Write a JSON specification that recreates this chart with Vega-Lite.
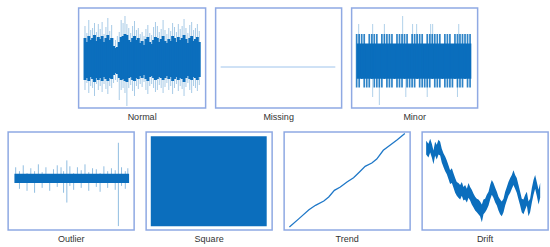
{
  "$schema": "https://vega.github.io/schema/vega-lite/v6.json",
  "padding": {"left": 7, "right": 7, "top": 7, "bottom": 4},
  "config": {
    "view": {"stroke": "#8fa9e3", "strokeWidth": 1.5},
    "axis": {"disable": true},
    "title": {"orient": "bottom", "fontSize": 9, "font": "Liberation Sans", "fontWeight": "normal", "color": "#333333", "offset": 5}
  },
  "vconcat": [
    {
      "hconcat": [
        {
          "title": "Normal", "width": 127, "height": 100,
          "data": {"values": [
            {"t":5,"mn":18,"lo":28,"hi":70,"mx":82},{"t":6.5,"mn":25,"lo":30,"hi":66,"mx":75},{"t":8,"mn":15,"lo":27,"hi":72,"mx":88},
            {"t":9.5,"mn":22,"lo":31,"hi":68,"mx":78},{"t":11,"mn":20,"lo":29,"hi":70,"mx":80},{"t":12.5,"mn":12,"lo":26,"hi":73,"mx":85},
            {"t":14,"mn":24,"lo":30,"hi":67,"mx":76},{"t":15.5,"mn":18,"lo":28,"hi":71,"mx":84},{"t":17,"mn":22,"lo":30,"hi":69,"mx":79},
            {"t":18.5,"mn":16,"lo":27,"hi":72,"mx":86},{"t":20,"mn":24,"lo":31,"hi":66,"mx":74},{"t":21.5,"mn":19,"lo":29,"hi":70,"mx":81},
            {"t":23,"mn":14,"lo":27,"hi":73,"mx":90},{"t":24.5,"mn":22,"lo":30,"hi":68,"mx":77},{"t":26,"mn":20,"lo":29,"hi":70,"mx":83},
            {"t":27.5,"mn":25,"lo":33,"hi":62,"mx":70},{"t":29,"mn":28,"lo":35,"hi":60,"mx":68},{"t":30.5,"mn":26,"lo":34,"hi":61,"mx":72},
            {"t":32,"mn":8,"lo":30,"hi":66,"mx":76},{"t":33.5,"mn":18,"lo":28,"hi":71,"mx":88},{"t":35,"mn":20,"lo":29,"hi":72,"mx":85},
            {"t":36.5,"mn":15,"lo":27,"hi":74,"mx":92},{"t":38,"mn":2,"lo":26,"hi":73,"mx":84},{"t":39.5,"mn":20,"lo":30,"hi":68,"mx":80},
            {"t":41,"mn":23,"lo":31,"hi":66,"mx":75},{"t":42.5,"mn":17,"lo":28,"hi":70,"mx":82},{"t":44,"mn":12,"lo":27,"hi":72,"mx":87},
            {"t":45.5,"mn":22,"lo":30,"hi":68,"mx":78},{"t":47,"mn":19,"lo":29,"hi":70,"mx":80},{"t":48.5,"mn":24,"lo":32,"hi":65,"mx":74},
            {"t":50,"mn":21,"lo":30,"hi":67,"mx":76},{"t":51.5,"mn":26,"lo":33,"hi":63,"mx":72},{"t":53,"mn":18,"lo":29,"hi":69,"mx":79},
            {"t":54.5,"mn":14,"lo":27,"hi":71,"mx":83},{"t":56,"mn":22,"lo":31,"hi":66,"mx":75},{"t":57.5,"mn":24,"lo":32,"hi":64,"mx":73},
            {"t":59,"mn":20,"lo":30,"hi":68,"mx":81},{"t":60.5,"mn":16,"lo":28,"hi":71,"mx":86},{"t":62,"mn":18,"lo":29,"hi":70,"mx":82},
            {"t":63.5,"mn":23,"lo":31,"hi":66,"mx":76},{"t":65,"mn":20,"lo":30,"hi":69,"mx":79},{"t":66.5,"mn":15,"lo":28,"hi":72,"mx":88},
            {"t":68,"mn":21,"lo":30,"hi":67,"mx":78},{"t":69.5,"mn":25,"lo":32,"hi":65,"mx":74},{"t":71,"mn":18,"lo":29,"hi":69,"mx":80},
            {"t":72.5,"mn":22,"lo":31,"hi":67,"mx":77},{"t":74,"mn":14,"lo":27,"hi":72,"mx":85},{"t":75.5,"mn":20,"lo":29,"hi":70,"mx":81},
            {"t":77,"mn":24,"lo":31,"hi":66,"mx":76},{"t":78.5,"mn":17,"lo":28,"hi":71,"mx":84},{"t":80,"mn":22,"lo":30,"hi":68,"mx":79},
            {"t":81.5,"mn":19,"lo":29,"hi":70,"mx":82},{"t":83,"mn":12,"lo":26,"hi":73,"mx":89},{"t":84.5,"mn":21,"lo":30,"hi":69,"mx":80},
            {"t":86,"mn":25,"lo":32,"hi":65,"mx":75},{"t":87.5,"mn":18,"lo":29,"hi":70,"mx":83},{"t":89,"mn":15,"lo":28,"hi":72,"mx":86},
            {"t":90.5,"mn":22,"lo":31,"hi":67,"mx":78},{"t":92,"mn":20,"lo":30,"hi":69,"mx":80},{"t":93.5,"mn":17,"lo":28,"hi":71,"mx":84},
            {"t":95,"mn":23,"lo":31,"hi":66,"mx":77}
          ]},
          "layer": [
            {"mark": {"type": "rule", "color": "#0b6ebd", "strokeWidth": 0.8, "opacity": 0.45},
             "encoding": {"x": {"field": "t", "type": "quantitative", "scale": {"domain": [0, 100]}},
                          "y": {"field": "mn", "type": "quantitative", "scale": {"domain": [0, 100]}},
                          "y2": {"field": "mx"}}},
            {"mark": {"type": "rule", "color": "#0b6ebd", "strokeWidth": 2.9},
             "encoding": {"x": {"field": "t", "type": "quantitative", "scale": {"domain": [0, 100]}},
                          "y": {"field": "lo", "type": "quantitative", "scale": {"domain": [0, 100]}},
                          "y2": {"field": "hi"}}}
          ]
        },
        {
          "title": "Missing", "width": 126, "height": 100,
          "data": {"values": [{"t": 4, "v": 41}, {"t": 95, "v": 41}]},
          "mark": {"type": "line", "color": "#9fc4ec", "strokeWidth": 1},
          "encoding": {"x": {"field": "t", "type": "quantitative", "scale": {"domain": [0, 100]}},
                       "y": {"field": "v", "type": "quantitative", "scale": {"domain": [0, 100]}}}
        },
        {
          "title": "Minor", "width": 126, "height": 100,
          "layer": [
            {"data": {"values": [{"a": 4, "b": 95, "lo": 29.3, "hi": 64.6}]},
             "mark": {"type": "rect", "color": "#0b6ebd"},
             "encoding": {"x": {"field": "a", "type": "quantitative", "scale": {"domain": [0, 100]}}, "x2": {"field": "b"},
                          "y": {"field": "lo", "type": "quantitative", "scale": {"domain": [0, 100]}}, "y2": {"field": "hi"}}},
            {"data": {"values": [
              {"t":4,"lo":20.5,"hi":74},{"t":6,"lo":20.5,"hi":74},{"t":8,"lo":29,"hi":74},{"t":10,"lo":20.5,"hi":74},{"t":12,"lo":20.5,"hi":64},
              {"t":14,"lo":20.5,"hi":74},{"t":16,"lo":29,"hi":74},{"t":18,"lo":20.5,"hi":74},{"t":20,"lo":20.5,"hi":74},{"t":22,"lo":20.5,"hi":64},
              {"t":24,"lo":20.5,"hi":74},{"t":26,"lo":29,"hi":74},{"t":28,"lo":20.5,"hi":74},{"t":30,"lo":20.5,"hi":74},{"t":32,"lo":20.5,"hi":74},
              {"t":34,"lo":29,"hi":64},{"t":36,"lo":20.5,"hi":74},{"t":38,"lo":20.5,"hi":74},{"t":40,"lo":20.5,"hi":74},{"t":42,"lo":29,"hi":74},
              {"t":44,"lo":20.5,"hi":74},{"t":46,"lo":20.5,"hi":64},{"t":48,"lo":20.5,"hi":74},{"t":50,"lo":20.5,"hi":74},{"t":52,"lo":29,"hi":74},
              {"t":54,"lo":20.5,"hi":74},{"t":56,"lo":20.5,"hi":74},{"t":58,"lo":20.5,"hi":64},{"t":60,"lo":20.5,"hi":74},{"t":62,"lo":20.5,"hi":74},
              {"t":64,"lo":29,"hi":74},{"t":66,"lo":20.5,"hi":74},{"t":68,"lo":20.5,"hi":74},{"t":70,"lo":20.5,"hi":74},{"t":72,"lo":29,"hi":64},
              {"t":74,"lo":20.5,"hi":74},{"t":76,"lo":20.5,"hi":74},{"t":78,"lo":20.5,"hi":74},{"t":80,"lo":20.5,"hi":64},{"t":82,"lo":29,"hi":74},
              {"t":84,"lo":20.5,"hi":74},{"t":86,"lo":20.5,"hi":74},{"t":88,"lo":20.5,"hi":74},{"t":90,"lo":29,"hi":74},{"t":92,"lo":20.5,"hi":74},
              {"t":94,"lo":20.5,"hi":74}
             ]},
             "mark": {"type": "rule", "color": "#0b6ebd", "strokeWidth": 1.7, "opacity": 0.85},
             "encoding": {"x": {"field": "t", "type": "quantitative", "scale": {"domain": [0, 100]}},
                          "y": {"field": "lo", "type": "quantitative", "scale": {"domain": [0, 100]}}, "y2": {"field": "hi"}}},
            {"data": {"values": [
              {"t":5.6,"lo":64,"hi":84},{"t":16.7,"lo":11,"hi":84},{"t":22,"lo":3,"hi":30},{"t":26,"lo":64,"hi":84},{"t":40.5,"lo":64,"hi":92},
              {"t":43,"lo":11,"hi":30},{"t":48.4,"lo":64,"hi":84},{"t":51.6,"lo":64,"hi":84},{"t":60,"lo":11,"hi":30},{"t":62.7,"lo":64,"hi":84},
              {"t":64.3,"lo":64,"hi":84},{"t":84,"lo":11,"hi":30},{"t":85,"lo":64,"hi":84}
             ]},
             "mark": {"type": "rule", "color": "#0b6ebd", "strokeWidth": 0.8, "opacity": 0.4},
             "encoding": {"x": {"field": "t", "type": "quantitative", "scale": {"domain": [0, 100]}},
                          "y": {"field": "lo", "type": "quantitative", "scale": {"domain": [0, 100]}}, "y2": {"field": "hi"}}}
          ]
        }
      ],
      "spacing": 8
    },
    {
      "hconcat": [
        {
          "title": "Outlier", "width": 126, "height": 98,
          "layer": [
            {"data": {"values": [
              {"t":6,"lo":55,"hi":64},{"t":9,"lo":42,"hi":60},{"t":12,"lo":50,"hi":66},{"t":15,"lo":40,"hi":58},{"t":18,"lo":52,"hi":63},
              {"t":21,"lo":38,"hi":60},{"t":24,"lo":50,"hi":67},{"t":27,"lo":43,"hi":59},{"t":30,"lo":51,"hi":64},{"t":33,"lo":40,"hi":57},
              {"t":36,"lo":50,"hi":62},{"t":39,"lo":44,"hi":66},{"t":42,"lo":52,"hi":64},{"t":44,"lo":38,"hi":60},{"t":46.6,"lo":28,"hi":71},
              {"t":49,"lo":45,"hi":65},{"t":52,"lo":41,"hi":58},{"t":55,"lo":50,"hi":64},{"t":58,"lo":43,"hi":61},{"t":61,"lo":49,"hi":67},
              {"t":64,"lo":40,"hi":59},{"t":67,"lo":51,"hi":63},{"t":70,"lo":44,"hi":62},{"t":73,"lo":39,"hi":58},{"t":76,"lo":50,"hi":65},
              {"t":79,"lo":43,"hi":60},{"t":82,"lo":50,"hi":63},{"t":85,"lo":41,"hi":61},{"t":87.5,"lo":4,"hi":89},{"t":90,"lo":45,"hi":64},
              {"t":93,"lo":42,"hi":60},{"t":95,"lo":50,"hi":63}
             ]},
             "mark": {"type": "rule", "color": "#0b6ebd", "strokeWidth": 0.9, "opacity": 0.5},
             "encoding": {"x": {"field": "t", "type": "quantitative", "scale": {"domain": [0, 100]}},
                          "y": {"field": "lo", "type": "quantitative", "scale": {"domain": [0, 100]}}, "y2": {"field": "hi"}}},
            {"data": {"values": [{"a": 5, "b": 96, "lo": 48, "hi": 57.5}]},
             "mark": {"type": "rect", "color": "#0b6ebd"},
             "encoding": {"x": {"field": "a", "type": "quantitative", "scale": {"domain": [0, 100]}}, "x2": {"field": "b"},
                          "y": {"field": "lo", "type": "quantitative", "scale": {"domain": [0, 100]}}, "y2": {"field": "hi"}}}
          ]
        },
        {
          "title": "Square", "width": 126, "height": 98,
          "data": {"values": [{"a": 3.7, "b": 95.7, "lo": 3.8, "hi": 95.6}]},
          "mark": {"type": "rect", "color": "#0b6ebd"},
          "encoding": {"x": {"field": "a", "type": "quantitative", "scale": {"domain": [0, 100]}}, "x2": {"field": "b"},
                       "y": {"field": "lo", "type": "quantitative", "scale": {"domain": [0, 100]}}, "y2": {"field": "hi"}}
        },
        {
          "title": "Trend", "width": 126, "height": 98,
          "data": {"values": [
            {"t":4.2,"v":3.1},{"t":11.8,"v":11.6},{"t":19.7,"v":20.7},{"t":24.9,"v":25.2},{"t":31.5,"v":29.6},{"t":35.4,"v":33.7},
            {"t":39.9,"v":40.5},{"t":44.6,"v":43.9},{"t":49.9,"v":49},{"t":55.1,"v":53.4},{"t":59.8,"v":59.2},{"t":64.3,"v":65},
            {"t":69.6,"v":68.4},{"t":73.5,"v":72.4},{"t":78.7,"v":81.3},{"t":84,"v":86.4},{"t":89.8,"v":92.2},{"t":95.8,"v":98.5}
          ]},
          "mark": {"type": "line", "color": "#1f78c8", "strokeWidth": 1.3},
          "encoding": {"x": {"field": "t", "type": "quantitative", "scale": {"domain": [0, 100]}},
                       "y": {"field": "v", "type": "quantitative", "scale": {"domain": [0, 100]}}}
        },
        {
          "title": "Drift", "width": 126, "height": 98,
          "data": {"values": [
            {"t":3.2,"lo":77,"hi":91},{"t":5,"lo":74,"hi":88},{"t":6.4,"lo":79,"hi":93},{"t":7.7,"lo":74,"hi":88},{"t":9,"lo":67,"hi":81},
            {"t":10.3,"lo":76,"hi":90},{"t":11.6,"lo":72,"hi":87},{"t":13,"lo":77,"hi":92},{"t":14.3,"lo":76,"hi":90},{"t":15.6,"lo":69,"hi":83},
            {"t":17,"lo":64,"hi":78},{"t":18.3,"lo":60,"hi":75},{"t":19.6,"lo":57,"hi":71},{"t":20.9,"lo":52,"hi":66},{"t":22.2,"lo":47,"hi":61},
            {"t":23.6,"lo":48,"hi":63},{"t":24.9,"lo":43,"hi":58},{"t":26.2,"lo":38,"hi":53},{"t":27.5,"lo":35,"hi":49},{"t":28.8,"lo":33,"hi":48},
            {"t":30.2,"lo":31,"hi":46},{"t":31.5,"lo":35,"hi":49},{"t":32.8,"lo":30,"hi":44},{"t":34.1,"lo":31,"hi":46},{"t":35.5,"lo":28,"hi":42},
            {"t":36.8,"lo":33,"hi":48},{"t":38.1,"lo":30,"hi":44},{"t":39.4,"lo":26,"hi":41},{"t":40.8,"lo":23,"hi":37},{"t":42.1,"lo":20,"hi":34},
            {"t":43.4,"lo":18,"hi":32},{"t":44.7,"lo":16,"hi":31},{"t":46,"lo":14,"hi":29},{"t":47.4,"lo":8,"hi":26},{"t":48.7,"lo":16,"hi":31},
            {"t":50,"lo":18,"hi":32},{"t":51.3,"lo":21,"hi":36},{"t":52.7,"lo":25,"hi":39},{"t":54,"lo":31,"hi":46},{"t":55.3,"lo":36,"hi":51},
            {"t":56.6,"lo":33,"hi":48},{"t":58,"lo":28,"hi":43},{"t":59.3,"lo":25,"hi":39},{"t":60.6,"lo":20,"hi":34},{"t":61.9,"lo":16,"hi":31},
            {"t":63.2,"lo":14,"hi":29},{"t":64.6,"lo":18,"hi":32},{"t":65.9,"lo":25,"hi":39},{"t":67.2,"lo":30,"hi":44},{"t":68.5,"lo":35,"hi":49},
            {"t":69.9,"lo":38,"hi":53},{"t":71.2,"lo":42,"hi":56},{"t":72.5,"lo":46,"hi":61},{"t":73.8,"lo":42,"hi":56},{"t":75.1,"lo":38,"hi":53},
            {"t":76.5,"lo":31,"hi":46},{"t":77.8,"lo":25,"hi":39},{"t":79.1,"lo":18,"hi":32},{"t":80.4,"lo":16,"hi":31},{"t":81.8,"lo":21,"hi":36},
            {"t":83.1,"lo":25,"hi":39},{"t":84.4,"lo":14,"hi":29},{"t":85.7,"lo":18,"hi":32},{"t":87.1,"lo":28,"hi":43},{"t":88.4,"lo":36,"hi":51},
            {"t":89.7,"lo":42,"hi":56},{"t":91,"lo":35,"hi":49},{"t":92.4,"lo":26,"hi":41},{"t":93.7,"lo":33,"hi":48}
          ]},
          "mark": {"type": "area", "color": "#0b6ebd"},
          "encoding": {"x": {"field": "t", "type": "quantitative", "scale": {"domain": [0, 100]}},
                       "y": {"field": "lo", "type": "quantitative", "scale": {"domain": [0, 100]}}, "y2": {"field": "hi"}}
        }
      ],
      "spacing": 10
    }
  ],
  "center": true,
  "spacing": 7
}
